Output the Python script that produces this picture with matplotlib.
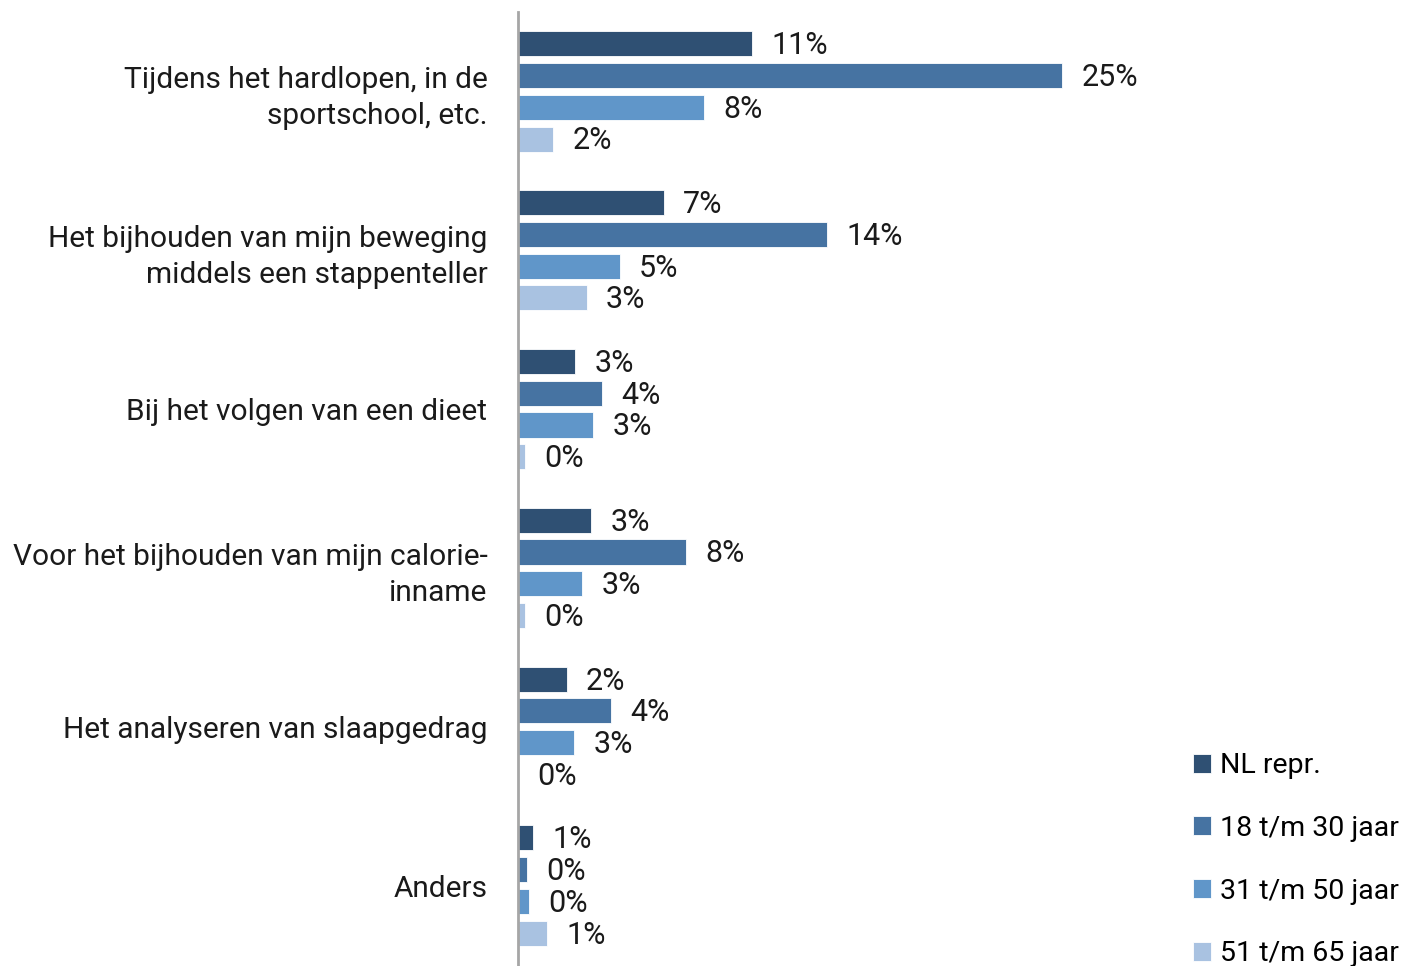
import matplotlib
matplotlib.use("Agg")
import matplotlib.pyplot as plt
import numpy as np

categories = [
    "Tijdens het hardlopen, in de\nsportschool, etc.",
    "Het bijhouden van mijn beweging\nmiddels een stappenteller",
    "Bij het volgen van een dieet",
    "Voor het bijhouden van mijn calorie-\ninname",
    "Het analyseren van slaapgedrag",
    "Anders",
]
series_names = ["NL repr.", "18 t/m 30 jaar", "31 t/m 50 jaar", "51 t/m 65 jaar"]
nl_repr   = [10.6, 6.6, 2.6, 3.3, 2.2, 0.7]
age_18_30 = [24.6, 14.0, 3.8, 7.6, 4.2, 0.4]
age_31_50 = [8.4, 4.6, 3.4, 2.9, 2.55, 0.5]
age_51_65 = [1.6, 3.1, 0.3, 0.3, 0.0, 1.3]
colors = ["#2F5073", "#4673A2", "#6096C9", "#A9C2E1"]

plt.rcParams['font.family'] = ['Roboto', 'DejaVu Sans']
fig = plt.figure(figsize=(14.14, 9.66), dpi=100)
ax = fig.add_axes([518/1414, 1/966, (1170-518)/1414, (965-12)/966])

series = [nl_repr, age_18_30, age_31_50, age_51_65]
n = len(categories)
group_pos = np.arange(n)
slot = 0.2
bh = 0.158
fs_cat = 21.5
fs_val = 22
fs_leg = 20.5
for i, (vals, name, col) in enumerate(zip(series, series_names, colors)):
    y = group_pos + (i - 1.5) * slot
    ax.barh(y, vals, height=bh, color=col, label=name, edgecolor='white', linewidth=0.6)
    for yy, v in zip(y, vals):
        ax.text(v + 0.88, yy + 0.012, f"{v:.0f}%", va='center', ha='left',
                fontsize=fs_val, color='#1a1a1a')

ax.set_ylim(n - 0.5, -0.5)
ax.set_xlim(0, 29.5)
ax.set_yticks(group_pos)
ax.set_yticklabels(categories, fontsize=fs_cat, color='#1a1a1a', ha='right', linespacing=1.35)
ax.tick_params(axis='y', length=0, pad=22)
ax.set_xticks([])
for s in ['top', 'right', 'bottom']:
    ax.spines[s].set_visible(False)
ax.spines['left'].set_color('#A6A6A6')
ax.spines['left'].set_linewidth(2)

handles, labels = ax.get_legend_handles_labels()
leg = fig.legend(handles, labels, loc='lower left', bbox_to_anchor=(1190/1414, -4/966),
                 frameon=False, fontsize=fs_leg, handlelength=0.65, handleheight=0.65,
                 handletextpad=0.3, labelspacing=1.25, borderpad=0.1, borderaxespad=0)

fig.savefig("out.png", dpi=100)
